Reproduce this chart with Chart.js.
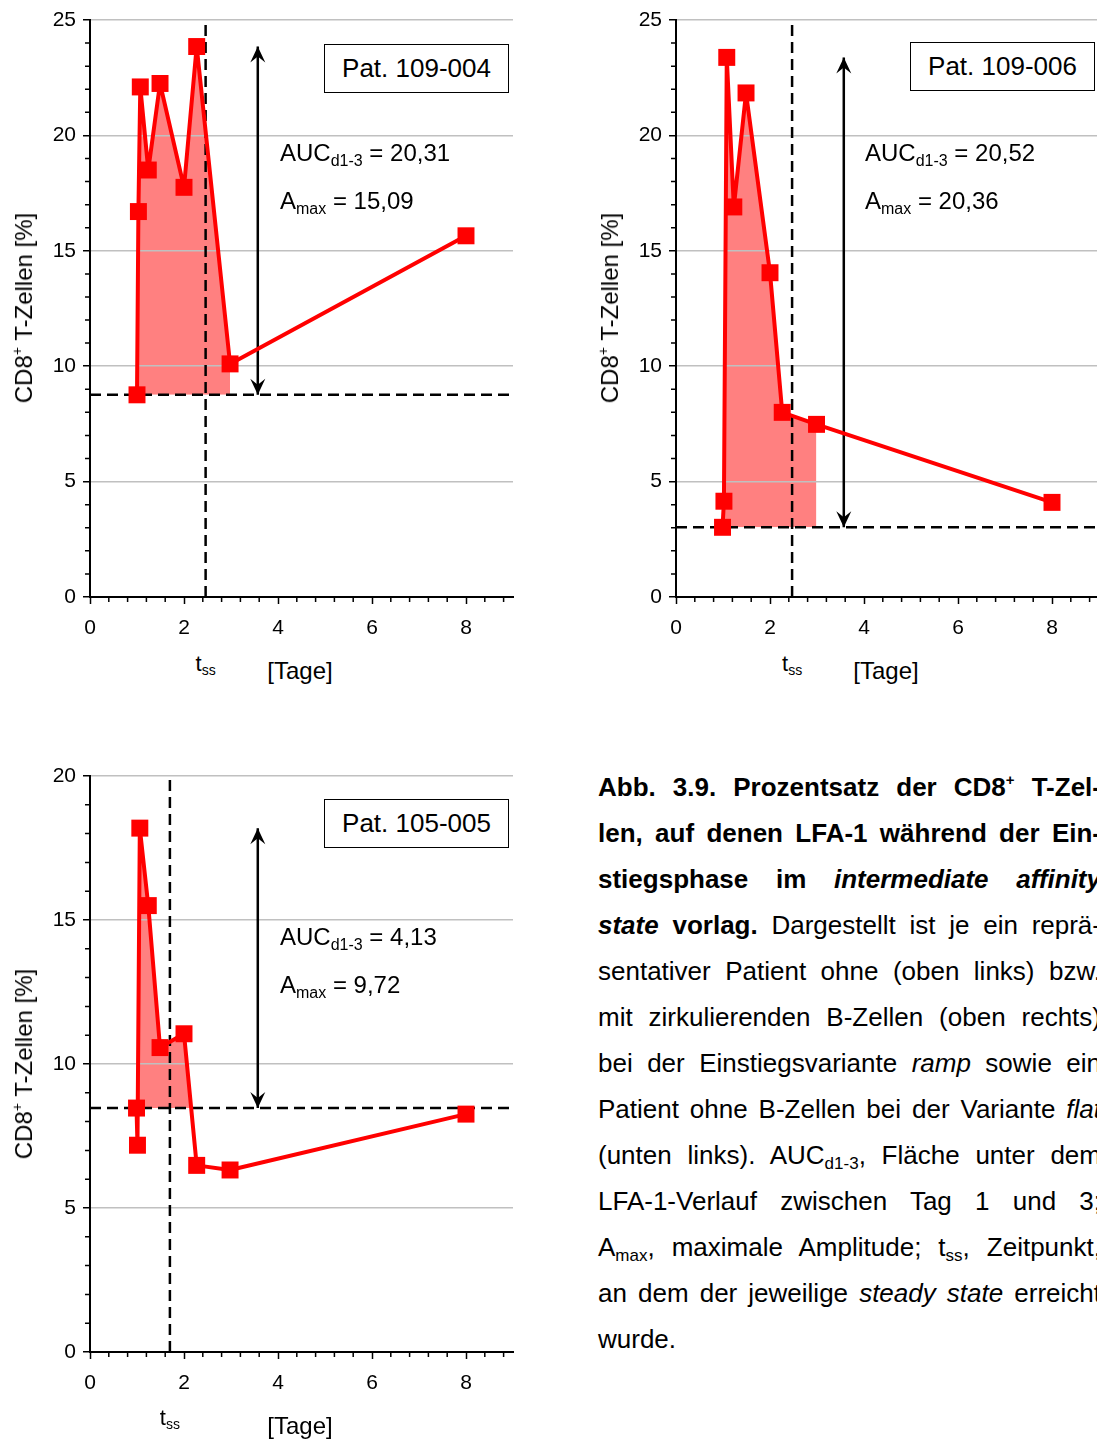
<!DOCTYPE html>
<html lang="de">
<head>
<meta charset="utf-8">
<title>Abb. 3.9 LFA-1 CD8+ T-Zellen</title>
<script src="https://cdn.jsdelivr.net/npm/chart.js"></script>
<style>
  html, body { margin: 0; padding: 0; background: #fff; }
  body { position: relative; width: 1097px; height: 1439px; overflow: hidden;
         font-family: "Liberation Sans", Arial, sans-serif; color: #000; }
  canvas { position: absolute; }
  .ytitle { position: absolute; font-size: 24px; line-height: 1; white-space: nowrap;
            transform: translate(-50%, -50%) rotate(-90deg); }
  .ytitle sup { font-size: 14px; vertical-align: 10px; line-height: 0; }
  .pat { position: absolute; box-sizing: border-box; width: 185px; height: 49px;
         border: 1.5px solid #000; font-size: 26px; line-height: 46px; text-align: center; background: #fff; }
  .note { position: absolute; font-size: 24px; line-height: 28px; white-space: nowrap; }
  .note sub { font-size: 16px; vertical-align: -5px; line-height: 0; }
  .tss { position: absolute; font-size: 22px; line-height: 24px; white-space: nowrap;
         transform: translate(-50%, -50%); }
  .tss sub { font-size: 14px; vertical-align: -4px; line-height: 0; }
  .unit { position: absolute; font-size: 24px; line-height: 28px; white-space: nowrap;
          transform: translate(-50%, -50%); }
  .caption { position: absolute; left: 598px; top: 764px; width: 503px; font-size: 26px; line-height: 46px; }
  .caption div { text-align: justify; text-align-last: justify; }
  .caption div.last { text-align-last: left; }
  .caption sup { font-size: 15px; vertical-align: 11px; line-height: 0; }
  .caption sub { font-size: 17px; vertical-align: -5px; line-height: 0; }
</style>
</head>
<body>

<canvas id="chartA" width="530" height="650" style="left:0;top:0"></canvas>
<canvas id="chartB" width="530" height="650" style="left:586px;top:0"></canvas>
<canvas id="chartC" width="530" height="650" style="left:0;top:756px"></canvas>

<!-- oben links -->
<div class="ytitle" style="left:24px;top:308px">CD8<sup>+</sup> T-Zellen [%]</div>
<div class="pat" style="left:324px;top:44px">Pat. 109-004</div>
<div class="note" style="left:280px;top:139px">AUC<sub>d1-3</sub> = 20,31</div>
<div class="note" style="left:280px;top:187px">A<sub>max</sub> = 15,09</div>
<div class="tss" id="tssA" style="top:664px">t<sub>ss</sub></div>
<div class="unit" style="left:300px;top:671px">[Tage]</div>

<!-- oben rechts -->
<div class="ytitle" style="left:610px;top:308px">CD8<sup>+</sup> T-Zellen [%]</div>
<div class="pat" style="left:910px;top:42px">Pat. 109-006</div>
<div class="note" style="left:865px;top:139px">AUC<sub>d1-3</sub> = 20,52</div>
<div class="note" style="left:865px;top:187px">A<sub>max</sub> = 20,36</div>
<div class="tss" id="tssB" style="top:664px">t<sub>ss</sub></div>
<div class="unit" style="left:886px;top:671px">[Tage]</div>

<!-- unten links -->
<div class="ytitle" style="left:24px;top:1064px">CD8<sup>+</sup> T-Zellen [%]</div>
<div class="pat" style="left:324px;top:799px">Pat. 105-005</div>
<div class="note" style="left:280px;top:923px">AUC<sub>d1-3</sub> = 4,13</div>
<div class="note" style="left:280px;top:971px">A<sub>max</sub> = 9,72</div>
<div class="tss" id="tssC" style="top:1418px">t<sub>ss</sub></div>
<div class="unit" style="left:300px;top:1426px">[Tage]</div>

<div class="caption">
  <div><b>Abb. 3.9. Prozentsatz der CD8<sup>+</sup> T-Zel-</b></div>
  <div><b>len, auf denen LFA-1 während der Ein-</b></div>
  <div><b>stiegsphase im <i>intermediate affinity</i></b></div>
  <div><b><i>state</i> vorlag.</b> Dargestellt ist je ein reprä-</div>
  <div>sentativer Patient ohne (oben links) bzw.</div>
  <div>mit zirkulierenden B-Zellen (oben rechts)</div>
  <div>bei der Einstiegsvariante <i>ramp</i> sowie ein</div>
  <div>Patient ohne B-Zellen bei der Variante <i>flat</i></div>
  <div>(unten links). AUC<sub>d1-3</sub>, Fläche unter dem</div>
  <div>LFA-1-Verlauf zwischen Tag 1 und 3;</div>
  <div>A<sub>max</sub>, maximale Amplitude; t<sub>ss</sub>, Zeitpunkt,</div>
  <div>an dem der jeweilige <i>steady state</i> erreicht</div>
  <div class="last">wurde.</div>
</div>

<script>
/* ------------------------------------------------------------
   DATA
------------------------------------------------------------ */
const xTicks = [0, 2, 4, 6, 8];
const yTicksTop = [0, 5, 10, 15, 20, 25];
const yTicksBottom = [0, 5, 10, 15, 20];

// Pat. 109-004 (oben links)
const daysA = [1.0, 1.03, 1.07, 1.24, 1.49, 2.0, 2.27, 2.98, 8.0];
const cd8A = [8.76, 16.7, 22.1, 18.5, 22.25, 17.75, 23.85, 10.1, 15.65];
const refA = [8.76, 23.85, 2.46]; // baseline, peak, t_ss

// Pat. 109-006 (oben rechts)
const daysB = [0.99, 1.02, 1.08, 1.23, 1.49, 2.0, 2.26, 2.99, 8.0];
const cd8B = [3.02, 4.15, 23.38, 16.9, 21.84, 14.05, 8.0, 7.48, 4.1];
const refB = [3.02, 23.38, 2.47];

// Pat. 105-005 (unten links)
const daysC = [0.99, 1.01, 1.06, 1.24, 1.49, 2.0, 2.27, 2.98, 8.0];
const cd8C = [8.47, 7.18, 18.19, 15.5, 10.57, 11.05, 6.48, 6.32, 8.26];
const refC = [8.47, 18.19, 1.70];

const arrowDay = 3.57;   // x of the A_max arrow
const aucEnd = 3;        // AUC window d1-3

/* ------------------------------------------------------------
   STYLE
------------------------------------------------------------ */
const FONT = '"Liberation Sans", Arial, sans-serif';
const RED = "#ff0000";
const PINK = "#ff8080";

/* ------------------------------------------------------------
   PLUGINS
------------------------------------------------------------ */
const minorTicks = {
  id: "minorTicks",
  afterDraw(chart) {
    const { ctx, scales: { x, y } } = chart;
    ctx.save();
    ctx.strokeStyle = "#000";
    ctx.lineWidth = 1.5;
    ctx.beginPath();
    for (let v = 1; v < y.max; v++) {
      if (v % 5 === 0) continue;
      const py = y.getPixelForValue(v);
      ctx.moveTo(x.left - 5, py);
      ctx.lineTo(x.left, py);
    }
    for (let k = 1; k * 0.4 < x.max; k++) {
      if (k % 5 === 0) continue;
      const px = x.getPixelForValue(k * 0.4);
      ctx.moveTo(px, y.bottom);
      ctx.lineTo(px, y.bottom + 5);
    }
    ctx.stroke();
    ctx.restore();
  }
};

const arrowHeads = {
  id: "arrowHeads",
  afterDatasetsDraw(chart) {
    const ctx = chart.ctx;
    chart.data.datasets.forEach((ds, i) => {
      if (!ds.arrow) return;
      const [a, b] = chart.getDatasetMeta(i).data;
      [[a, b], [b, a]].forEach(([tip, from]) => {
        const dir = Math.sign(tip.y - from.y);
        ctx.save();
        ctx.fillStyle = "#000";
        ctx.beginPath();
        ctx.moveTo(tip.x, tip.y);
        ctx.lineTo(tip.x - 7.5, tip.y - dir * 16);
        ctx.lineTo(tip.x, tip.y - dir * 10);
        ctx.lineTo(tip.x + 7.5, tip.y - dir * 16);
        ctx.closePath();
        ctx.fill();
        ctx.restore();
      });
    });
  }
};

/* ------------------------------------------------------------
   PANEL
------------------------------------------------------------ */
function panel(canvasId, days, cd8, ref, yTicks, plotBottom) {
  const canvas = document.getElementById(canvasId);
  const [base, peak, tss] = ref;
  const yMax = yTicks[yTicks.length - 1];
  const pts = days.map((d, i) => ({ x: d, y: cd8[i] }));
  const aucPts = pts.filter(p => p.x <= aucEnd);

  const dashed = { borderColor: "#000", borderWidth: 2.5, borderDash: [11, 6], pointRadius: 0, order: 1 };

  return new Chart(canvas, {
    type: "line",
    data: {
      datasets: [
        { data: pts, borderColor: RED, borderWidth: 4, borderJoinStyle: "round", pointStyle: "rect",
          pointRadius: 12, pointBackgroundColor: RED, pointBorderWidth: 0, order: 0, clip: false },
        { ...dashed, data: [{ x: 0, y: base }, { x: 9, y: base }] },
        { ...dashed, data: [{ x: tss, y: 0 }, { x: tss, y: yMax }] },
        { data: [{ x: arrowDay, y: base }, { x: arrowDay, y: peak }], borderColor: "#000",
          borderWidth: 2.5, pointRadius: 0, order: 1, arrow: true },
        { data: aucPts, borderColor: "rgba(0,0,0,0)", borderWidth: 0, pointRadius: 0, order: 2,
          fill: { target: { value: base }, above: PINK, below: "rgba(0,0,0,0)" } }
      ]
    },
    options: {
      responsive: false,
      animation: false,
      events: [],
      layout: { padding: { left: 0, right: 17, top: 20, bottom: 0 } },
      plugins: {
        legend: { display: false },
        tooltip: { enabled: false },
        filler: { drawTime: "beforeDraw" }
      },
      scales: {
        x: {
          type: "linear", min: 0, max: 9,
          border: { color: "#000", width: 2 },
          grid: { drawOnChartArea: false, tickLength: 7, tickColor: "#000", tickWidth: 1.5 },
          ticks: { color: "#000", font: { size: 21, family: FONT }, padding: 12, maxRotation: 0, autoSkip: false },
          afterBuildTicks: s => { s.ticks = xTicks.map(v => ({ value: v })); },
          afterFit: s => { s.height = canvas.height - plotBottom; }
        },
        y: {
          min: 0, max: yMax,
          border: { color: "#000", width: 2 },
          grid: { color: "#c0c0c0", lineWidth: 1.5, tickLength: 7, tickColor: "#000", tickWidth: 1.5 },
          ticks: { color: "#000", font: { size: 21, family: FONT }, padding: 7 },
          afterBuildTicks: s => { s.ticks = yTicks.map(v => ({ value: v })); },
          afterFit: s => { s.width = 90; }
        }
      }
    },
    plugins: [minorTicks, arrowHeads]
  });
}

/* ------------------------------------------------------------
   INIT
------------------------------------------------------------ */
const panels = [
  ["chartA", daysA, cd8A, refA, yTicksTop, 597, "tssA", 0],
  ["chartB", daysB, cd8B, refB, yTicksTop, 597, "tssB", 586],
  ["chartC", daysC, cd8C, refC, yTicksBottom, 596, "tssC", 0]
];

panels.forEach(([id, days, cd8, ref, yTicks, bottom, tssId, left]) => {
  const chart = panel(id, days, cd8, ref, yTicks, bottom);
  const px = chart.scales.x.getPixelForValue(ref[2]) + left;
  document.getElementById(tssId).style.left = px + "px";
});
</script>
</body>
</html>
